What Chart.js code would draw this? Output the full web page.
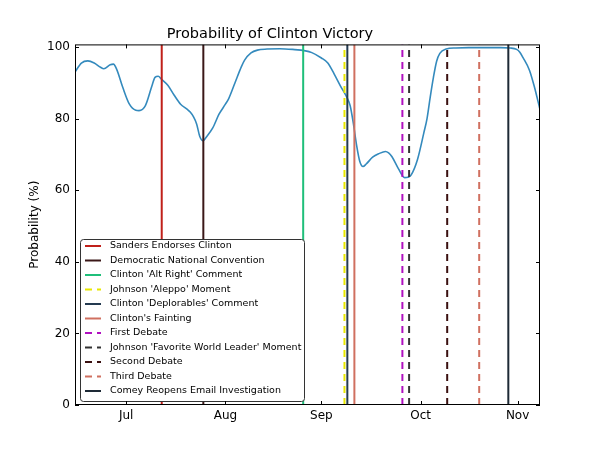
<!DOCTYPE html>
<html>
<head>
<meta charset="utf-8">
<script src="https://cdn.jsdelivr.net/npm/chart.js@4"></script>
<style>
  body { margin: 0; background: #fff; }
  #wrap { width: 600px; height: 450px; }
</style>
</head>
<body>
<div id="wrap"><canvas id="chart" width="600" height="450"></canvas></div>
<script>
// x is the sample index counted from mid June (one sample per day, roughly)
const sampleIndex = [0, 2, 4, 6, 8, 9, 11, 12, 13, 15, 17, 19, 20, 22, 24, 25, 26, 27, 29, 31,
    33, 35, 36, 37, 38, 39, 40, 41, 43, 45, 47, 48, 50, 52, 53, 55, 57, 60, 64, 68,
    72, 74, 77, 79, 81, 83, 85, 86, 87, 88, 89, 90, 91, 93, 95, 97, 98, 99, 101, 103,
    104, 105, 107, 109, 110, 111, 112, 113, 114, 116, 119, 123, 128, 133, 136, 138, 139, 140, 142, 143.5, 145.3];
const probability = [93.0, 95.5, 96.1, 95.5, 94.3, 93.9, 95.0, 95.2, 93.8, 88.5, 84.0, 82.3, 82.2, 83.6, 89.0, 91.5, 91.8, 91.0, 89.3, 86.5,
    84.0, 82.6, 81.8, 80.5, 78.5, 75.0, 73.8, 74.8, 77.3, 81.2, 84.0, 85.5, 90.0, 94.5, 96.3, 98.3, 99.1, 99.4, 99.5, 99.3,
    98.9, 98.4, 96.9, 95.5, 92.4, 89.0, 85.8, 83.5, 78.5, 72.5, 68.0, 66.6, 67.3, 69.2, 70.2, 70.8, 70.4, 69.4, 66.1, 63.5,
    63.6, 64.2, 68.5, 76.0, 80.0, 86.0, 91.5, 96.0, 98.2, 99.4, 99.7, 99.8, 99.8, 99.8, 99.7, 99.3, 98.5, 97.0, 93.5, 89.0, 82.5];

const eventLabels = ["Sanders Endorses Clinton", "Democratic National Convention", "Clinton 'Alt Right' Comment",
    "Johnson 'Aleppo' Moment", "Clinton 'Deplorables' Comment", "Clinton's Fainting", "First Debate",
    "Johnson 'Favorite World Leader' Moment", "Second Debate", "Third Debate", "Comey Reopens Email Investigation"];
const eventIndex = [27.1, 40.1, 71.3, 84.2, 85.1, 87.3, 102.3, 104.4, 116.3, 126.3, 135.4];
const eventColors = ["#c0201a", "#3b1818", "#1fbf7a", "#e8e800", "#243a50", "#d07060", "#b010c0",
    "#333333", "#3a1010", "#d07060", "#1e2a36"];
const eventDashed = [false, false, false, true, false, false, true, true, true, true, false];

const monthIndex = [16, 47, 77, 108, 138.3];
const monthLabels = ["Jul", "Aug", "Sep", "Oct", "Nov"];
const yTicks = [0, 20, 40, 60, 80, 100];

const X_MIN = 0, X_MAX = 145.3, Y_MAX = 100.7;

const datasets = eventLabels.map(function (label, i) {
    return {
        label: label,
        data: [{ x: eventIndex[i], y: 0 }, { x: eventIndex[i], y: Y_MAX }],
        borderColor: eventColors[i],
        borderWidth: 2,
        borderDash: eventDashed[i] ? [7, 5] : [],
        pointRadius: 0,
        order: 0
    };
});
datasets.push({
    label: "Probability",
    data: sampleIndex.map((d, i) => ({ x: d, y: probability[i] })),
    borderColor: "#348ABD",
    borderWidth: 1.6,
    pointRadius: 0,
    cubicInterpolationMode: "monotone",
    order: 1
});

// frame with inward ticks, and matplotlib-style legend in the lower left
const framePlugin = {
    id: "frame",
    afterDraw(chart) {
        const ctx = chart.ctx;
        const a = chart.chartArea;
        const xs = chart.scales.x, ys = chart.scales.y;

        // legend
        const lx = 80, ly = 239, lw = 224, lh = 162;
        ctx.save();
        ctx.fillStyle = "#fff";
        ctx.strokeStyle = "#333";
        ctx.lineWidth = 1;
        ctx.beginPath();
        ctx.roundRect(lx + 0.5, ly + 0.5, lw, lh, 3);
        ctx.fill();
        ctx.stroke();
        ctx.font = "9.5px 'DejaVu Sans'";
        ctx.textBaseline = "middle";
        eventLabels.forEach(function (label, i) {
            const y = 246 + i * 14.5;
            ctx.strokeStyle = eventColors[i];
            ctx.lineWidth = 2;
            ctx.setLineDash(eventDashed[i] ? [7, 5] : []);
            ctx.beginPath();
            ctx.moveTo(85, y);
            ctx.lineTo(101, y);
            ctx.stroke();
            ctx.setLineDash([]);
            ctx.fillStyle = "#000";
            ctx.fillText(label, 110, y);
        });

        // axes frame
        ctx.strokeStyle = "#000";
        ctx.lineWidth = 1;
        ctx.strokeRect(a.left + 0.5, a.top + 0.5, a.right - a.left - 1, a.bottom - a.top - 1);
        ctx.beginPath();
        monthIndex.forEach(function (d) {
            const x = Math.round(xs.getPixelForValue(d)) + 0.5;
            ctx.moveTo(x, a.bottom); ctx.lineTo(x, a.bottom - 4);
            ctx.moveTo(x, a.top); ctx.lineTo(x, a.top + 4);
        });
        yTicks.forEach(function (v) {
            const y = Math.round(ys.getPixelForValue(v)) + 0.5;
            ctx.moveTo(a.left, y); ctx.lineTo(a.left + 4, y);
            ctx.moveTo(a.right, y); ctx.lineTo(a.right - 4, y);
        });
        ctx.stroke();
        ctx.restore();
    }
};

new Chart(document.getElementById("chart"), {
    type: "line",
    data: { datasets: datasets },
    options: {
        responsive: false,
        animation: false,
        layout: { padding: { left: 0, right: 60, top: 0, bottom: 0 } },
        plugins: {
            legend: { display: false },
            tooltip: { enabled: false },
            title: {
                display: true,
                text: "Probability of Clinton Victory",
                color: "#000",
                font: { family: "DejaVu Sans", size: 14.5, weight: "normal" },
                padding: { top: 26, bottom: 1 }
            }
        },
        scales: {
            x: {
                type: "linear",
                min: X_MIN,
                max: X_MAX,
                afterBuildTicks: s => { s.ticks = monthIndex.map(v => ({ value: v })); },
                afterFit: s => { s.height = 45; },
                grid: { display: false, drawTicks: false },
                border: { display: false },
                ticks: {
                    color: "#000",
                    padding: 4,
                    maxRotation: 0,
                    autoSkip: false,
                    font: { family: "DejaVu Sans", size: 12 },
                    callback: v => monthLabels[monthIndex.indexOf(v)]
                }
            },
            y: {
                min: 0,
                max: Y_MAX,
                afterBuildTicks: s => { s.ticks = yTicks.map(v => ({ value: v })); },
                afterFit: s => { s.width = 75; },
                grid: { display: false, drawTicks: false },
                border: { display: false },
                title: {
                    display: true,
                    text: "Probability (%)",
                    color: "#000",
                    font: { family: "DejaVu Sans", size: 12 },
                    padding: { top: 28, bottom: 0 }
                },
                ticks: {
                    color: "#000",
                    padding: 5,
                    font: { family: "DejaVu Sans", size: 12 }
                }
            }
        }
    },
    plugins: [framePlugin]
});
</script>
</body>
</html>
